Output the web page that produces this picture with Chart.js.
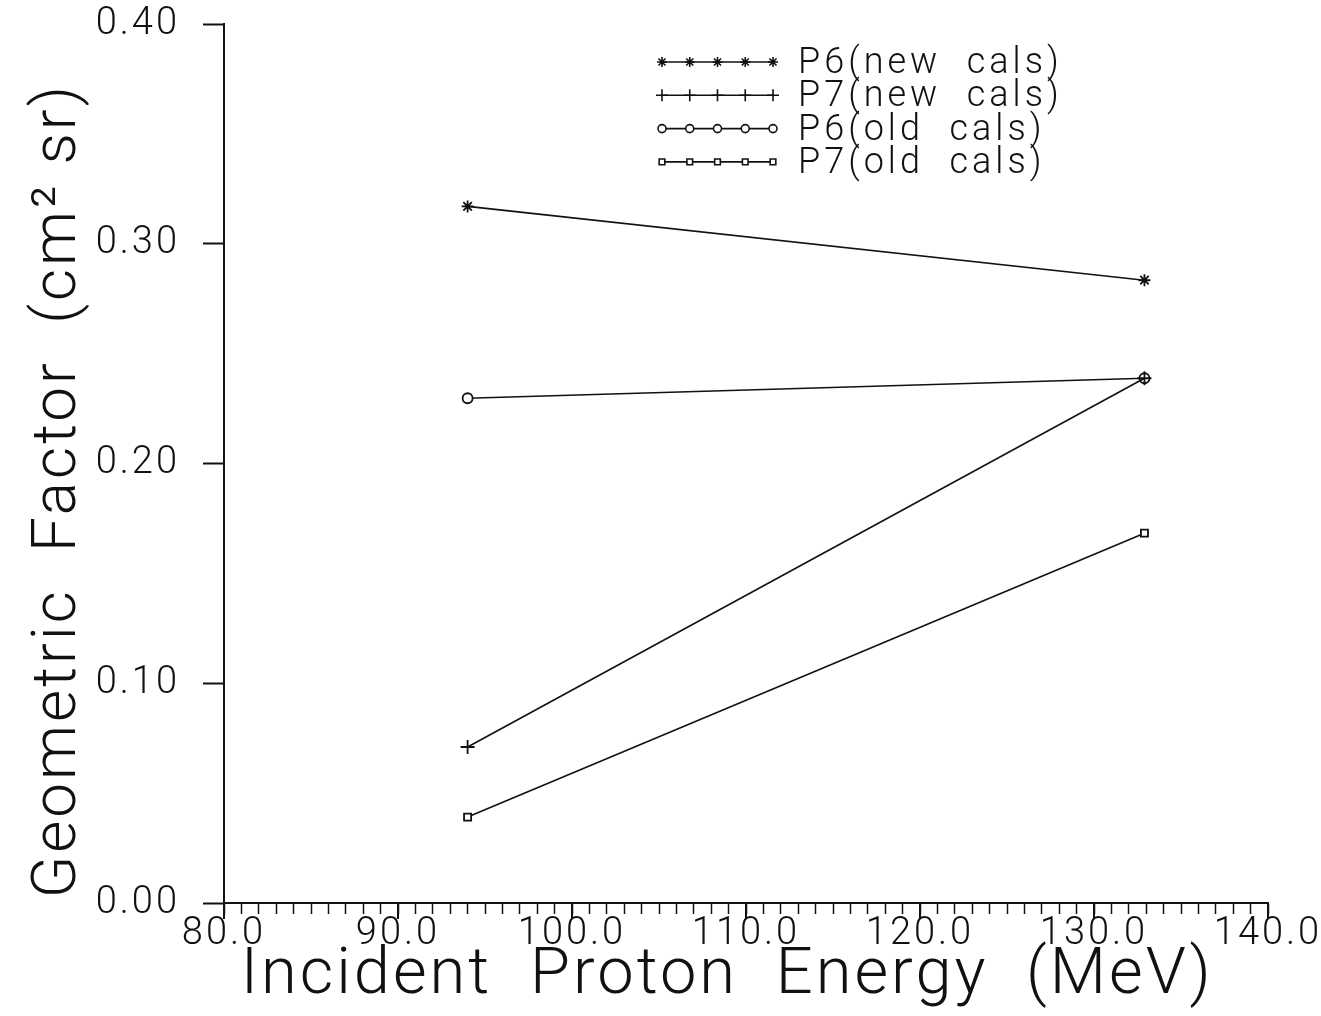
<!DOCTYPE html>
<html>
<head>
<meta charset="utf-8">
<title>Geometric Factor vs Incident Proton Energy</title>
<script src="https://cdn.jsdelivr.net/npm/chart.js@4/dist/chart.umd.min.js"></script>
<style>
  html, body { margin: 0; padding: 0; background: #fff; }
  #wrap { width: 1321px; height: 1016px; }
</style>
</head>
<body>
<div id="wrap"><canvas id="chart"></canvas></div>
<script>
  // values
  const energies = [94.0, 132.9];
  const p6New = [0.317, 0.2834];
  const p7New = [0.071, 0.2388];
  const p6Old = [0.2297, 0.2388];
  const p7Old = [0.0391, 0.1683];
  const seriesNames = ["P6(new  cals)", "P7(new  cals)", "P6(old  cals)", "P7(old  cals)"];
  const xMajorTicks = [80, 90, 100, 110, 120, 130, 140];
  const yTicks = [0.0, 0.1, 0.2, 0.3, 0.4];

  const FONT = "Roboto, 'Liberation Sans', sans-serif";
  const INK = "#111";

  function pts(ys) {
    return energies.map((x, i) => ({ x: x, y: ys[i] }));
  }

  function ds(label, ys, style, radius, fill) {
    return {
      label: label,
      data: pts(ys),
      showLine: true,
      borderColor: INK,
      borderWidth: 1.6,
      pointStyle: style,
      pointRadius: radius,
      pointBorderWidth: 1.8,
      pointBorderColor: INK,
      pointBackgroundColor: fill,
      tension: 0,
    };
  }

  // wide lettering like the old plotter output
  const spacing = {
    id: "spacing",
    beforeLayout(chart) { chart.ctx.letterSpacing = "3px"; },
    beforeDraw(chart) { chart.ctx.letterSpacing = "3px"; },
  };

  // longer ticks at every 10 MeV
  const majorTicks = {
    id: "majorTicks",
    afterDraw(chart) {
      const xs = chart.scales.x;
      const ctx = chart.ctx;
      ctx.save();
      ctx.strokeStyle = INK;
      ctx.lineWidth = 2;
      ctx.beginPath();
      xMajorTicks.forEach((v) => {
        const px = xs.getPixelForValue(v);
        ctx.moveTo(px, xs.top);
        ctx.lineTo(px, xs.top + 16);
      });
      ctx.stroke();
      ctx.restore();
    },
  };

  // legend block, five markers along each sample line
  const plotterLegend = {
    id: "plotterLegend",
    afterDraw(chart) {
      const ctx = chart.ctx;
      const x0 = 662, x1 = 773, textX = 798, rowY = 62, rowH = 33.3;
      ctx.save();
      ctx.letterSpacing = "4px";
      ctx.font = "300 36px " + FONT;
      ctx.textBaseline = "middle";
      chart.data.datasets.forEach((d, i) => {
        const y = rowY + i * rowH;
        ctx.strokeStyle = INK;
        ctx.lineWidth = 1.6;
        ctx.beginPath();
        ctx.moveTo(x0, y);
        ctx.lineTo(x1, y);
        ctx.stroke();
        for (let k = 0; k < 5; k++) {
          const px = x0 + (k * (x1 - x0)) / 4;
          ctx.fillStyle = d.pointBackgroundColor;
          Chart.helpers.drawPoint(ctx, {
            pointStyle: d.pointStyle,
            radius: d.pointRadius - 1,
            borderWidth: 1.8,
            rotation: 0,
          }, px, y);
        }
        ctx.fillStyle = INK;
        ctx.fillText(d.label, textX, y + 2);
      });
      ctx.restore();
    },
  };

  new Chart(document.getElementById("chart"), {
    type: "scatter",
    data: {
      datasets: [
        ds(seriesNames[0], p6New, "star", 6, INK),
        ds(seriesNames[1], p7New, "cross", 7, INK),
        ds(seriesNames[2], p6Old, "circle", 5, "#fff"),
        ds(seriesNames[3], p7Old, "rect", 5, "#fff"),
      ],
    },
    options: {
      responsive: true,
      maintainAspectRatio: false,
      animation: false,
      layout: { padding: { top: 24, right: 53, left: 0, bottom: 0 } },
      plugins: { legend: { display: false }, tooltip: { enabled: false } },
      scales: {
        x: {
          type: "linear",
          min: 80,
          max: 140,
          afterFit(scale) { scale.height = 113; },
          afterBuildTicks(scale) {
            const t = [];
            for (let v = 80; v <= 140; v++) t.push({ value: v });
            scale.ticks = t;
          },
          border: { display: true, color: INK, width: 2 },
          grid: { drawOnChartArea: false, tickLength: 11, tickColor: INK, tickWidth: 1.5 },
          ticks: {
            autoSkip: false,
            maxRotation: 0,
            padding: -2,
            color: INK,
            font: { family: FONT, size: 38, weight: "300" },
            callback: (v) => (xMajorTicks.includes(v) ? v.toFixed(1) : ""),
          },
          title: {
            display: true,
            text: "Incident  Proton  Energy  (MeV)  ",
            color: INK,
            font: { family: FONT, size: 65, weight: "300" },
            padding: { top: 0, bottom: 0 },
          },
        },
        y: {
          type: "linear",
          min: 0,
          max: 0.4,
          afterFit(scale) {
            scale.width = 224;
            scale.paddingTop = 0;
            scale.paddingBottom = 0;
          },
          afterBuildTicks(scale) {
            scale.ticks = yTicks.map((v) => ({ value: v }));
          },
          border: { display: true, color: INK, width: 2 },
          grid: { drawOnChartArea: false, tickLength: 21, tickColor: INK, tickWidth: 2 },
          ticks: {
            padding: 23,
            color: INK,
            font: { family: FONT, size: 38, weight: "300" },
            callback: (v) => Number(v).toFixed(2),
          },
          title: {
            display: true,
            text: "Geometric  Factor  (cm² sr)   ",
            color: INK,
            font: { family: FONT, size: 62, weight: "300" },
            padding: { top: 22, bottom: 0 },
          },
        },
      },
    },
    plugins: [spacing, majorTicks, plotterLegend],
  });
</script>
</body>
</html>
